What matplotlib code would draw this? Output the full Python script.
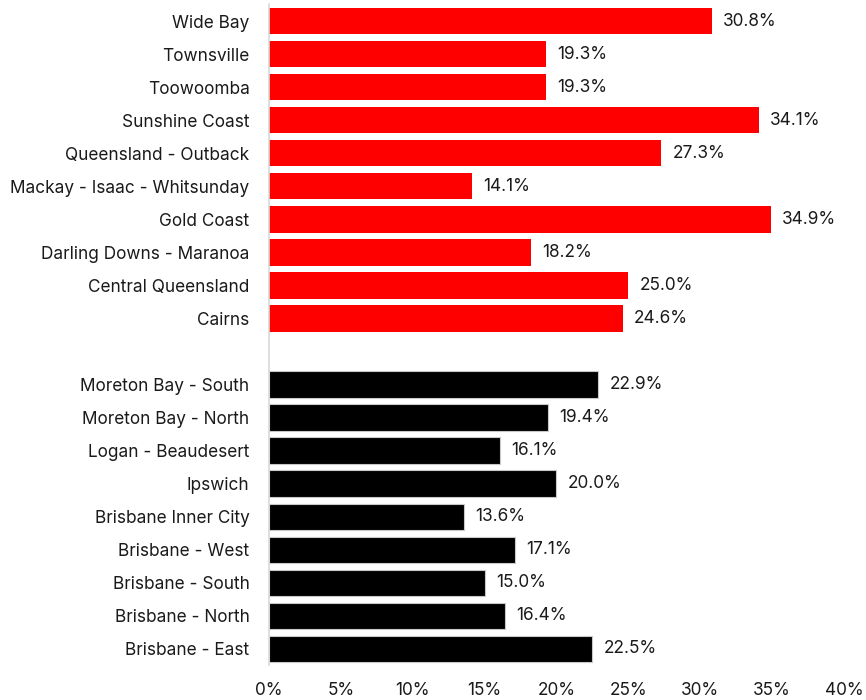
import matplotlib.pyplot as plt
from matplotlib.ticker import FuncFormatter

# ---------------- Data ----------------
regional = ["Wide Bay", "Townsville", "Toowoomba", "Sunshine Coast",
            "Queensland - Outback", "Mackay - Isaac - Whitsunday", "Gold Coast",
            "Darling Downs - Maranoa", "Central Queensland", "Cairns"]
regional_vals = [30.8, 19.3, 19.3, 34.1, 27.3, 14.1, 34.9, 18.2, 25.0, 24.6]

brisbane = ["Moreton Bay - South", "Moreton Bay - North", "Logan - Beaudesert",
            "Ipswich", "Brisbane Inner City", "Brisbane - West", "Brisbane - South",
            "Brisbane - North", "Brisbane - East"]
brisbane_vals = [22.9, 19.4, 16.1, 20.0, 13.6, 17.1, 15.0, 16.4, 22.5]

xticks = [0, 5, 10, 15, 20, 25, 30, 35, 40]

plt.rcParams['font.family'] = ['Inter', 'DejaVu Sans']
fs = 12.4
txt = '#1a1a1a'

# ---------------- Plot ----------------
fig = plt.figure(figsize=(8.66, 7), dpi=100)
ax = fig.add_axes([0.3106, 0.0493, 0.664, 0.9443])

n_reg = len(regional)
n_all = n_reg + 1 + len(brisbane)   # one blank row between the groups
y_reg = [n_all - 1 - i for i in range(n_reg)]
y_bri = [n_all - 1 - (n_reg + 1 + i) for i in range(len(brisbane))]

ax.barh(y_reg, regional_vals, height=0.8, color='#ff0000')
ax.barh(y_bri, brisbane_vals, height=0.8, color='black',
        edgecolor='#c8c8c8', linewidth=0.8)

for y, v in zip(y_reg + y_bri, regional_vals + brisbane_vals):
    ax.annotate(f"{v:.1f}%", (v, y), xytext=(8, 0), textcoords='offset points',
                va='center', ha='left', fontsize=fs, color=txt)

ax.set_yticks(y_reg + y_bri)
ax.set_yticklabels(regional + brisbane, fontsize=fs, color=txt)
ax.set_xticks(xticks)
ax.xaxis.set_major_formatter(FuncFormatter(lambda v, p: f"{v:.0f}%"))
ax.tick_params(axis='x', length=0, pad=12, labelsize=fs, labelcolor=txt)
ax.tick_params(axis='y', length=0, pad=14)

ax.set_xlim(0, 40)
ax.set_ylim(-0.5, n_all - 0.5)

for s in ['top', 'right', 'bottom']:
    ax.spines[s].set_visible(False)
ax.spines['left'].set_color('#d9d9d9')
ax.spines['left'].set_linewidth(1.2)

fig.savefig('out.png', dpi=100)
